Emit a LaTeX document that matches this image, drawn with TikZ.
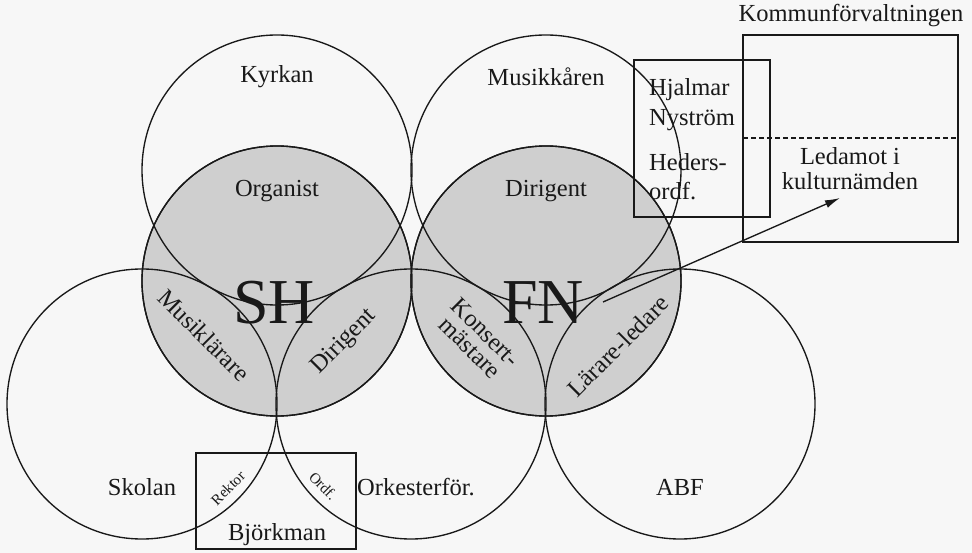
\documentclass[tikz,border=0pt]{standalone}
\usepackage{fontspec}
\setmainfont{Liberation Serif}
\usetikzlibrary{arrows.meta}
\begin{document}
\begin{tikzpicture}[x=1pt,y=-1pt,
  ring/.style={circle, draw=black!90, line width=1.35pt, minimum size=270pt, inner sep=0pt, outer sep=0pt},
  shaded/.style={ring, fill=black!19},
  lbl/.style={font=\fontsize{24.5}{27}\selectfont, inner sep=0pt, text=black!90},
  big/.style={font=\fontsize{64}{64}\selectfont, inner sep=0pt, text=black!90},
  small/.style={font=\fontsize{15}{17}\selectfont, inner sep=0pt, text=black!90},
  box/.style={draw=black!90, line width=1.35pt},
]
\useasboundingbox[fill=white!97!black] (0,0) rectangle (972,553);
% shaded circles
\node[shaded] (sh) at (277,281) {};
\node[shaded] (fn) at (546,281) {};
% plain circles
\node[ring] (kyrkan) at (277,170) {};
\node[ring] (musik) at (546,170) {};
\node[ring] (skolan) at (142,404) {};
\node[ring] (orkester) at (411,404) {};
\node[ring] (abf) at (680,404) {};
\node[ring, fill=none] (shline) at (277,281) {};
\node[ring, fill=none] (fnline) at (546,281) {};
% boxes
\draw[box] (634,60) rectangle (770,217);
\draw[box] (743,35) rectangle (958,242);
\draw[box, dashed, line width=1.1pt, dash pattern=on 5pt off 3pt] (743,138) -- (958,138);
\draw[box] (196,453) rectangle (356,549);
% labels
\node[lbl] (tkyrkan) at (277,77) {Kyrkan};
\node[lbl] (torganist) at (277,191) {Organist};
\node[lbl] (tmusik) at (546,77) {Musikkåren};
\node[lbl] (tdirigent1) at (546,191) {Dirigent};
\node[big] (tsh) at (274,303) {SH};
\node[big] (tfn) at (543,303) {FN};
\node[lbl, rotate=-45] (tmusiklarare) at (204,335) {Musiklärare};
\node[lbl, rotate=45] (tdirigent2) at (344,342) {Dirigent};
\node[lbl, rotate=-45, align=center, font=\fontsize{24.5}{22}\selectfont] (tkonsert) at (478,340) {Konsert-\\mästare};
\node[lbl, rotate=45] (tlarare) at (618,346) {Lärare-ledare};
\node[lbl] (tskolan) at (142,487) {Skolan};
\node[lbl] (tork) at (416,487) {Orkesterför.};
\node[lbl] (tabf) at (680,487) {ABF};
\node[lbl] (tbjork) at (277,535) {Björkman};
\node[small, rotate=45] (trektor) at (228,488) {Rektor};
\node[small, rotate=-45] (tordf) at (323,486) {Ordf.};
\node[lbl] (tkommun) at (851,16) {Kommunförvaltningen};
\node[lbl, anchor=west, align=left, font=\fontsize{24.5}{30}\selectfont] (thjalmar) at (649,105) {Hjalmar\\Nyström};
\node[lbl, anchor=west, align=left, font=\fontsize{24.5}{29}\selectfont] (theders) at (649,177) {Heders-\\ordf.};
\node[lbl, align=center, font=\fontsize{24.5}{25}\selectfont] (tledamot) at (850,169) {Ledamot i\\kulturnämden};
% arrow
\coordinate (astart) at (603,302);
\coordinate (aend) at (840,198);
\draw[line width=1.35pt, draw=black!90, -{Latex[length=15pt,width=8pt]}] (astart) -- (aend);
\end{tikzpicture}
\end{document}
